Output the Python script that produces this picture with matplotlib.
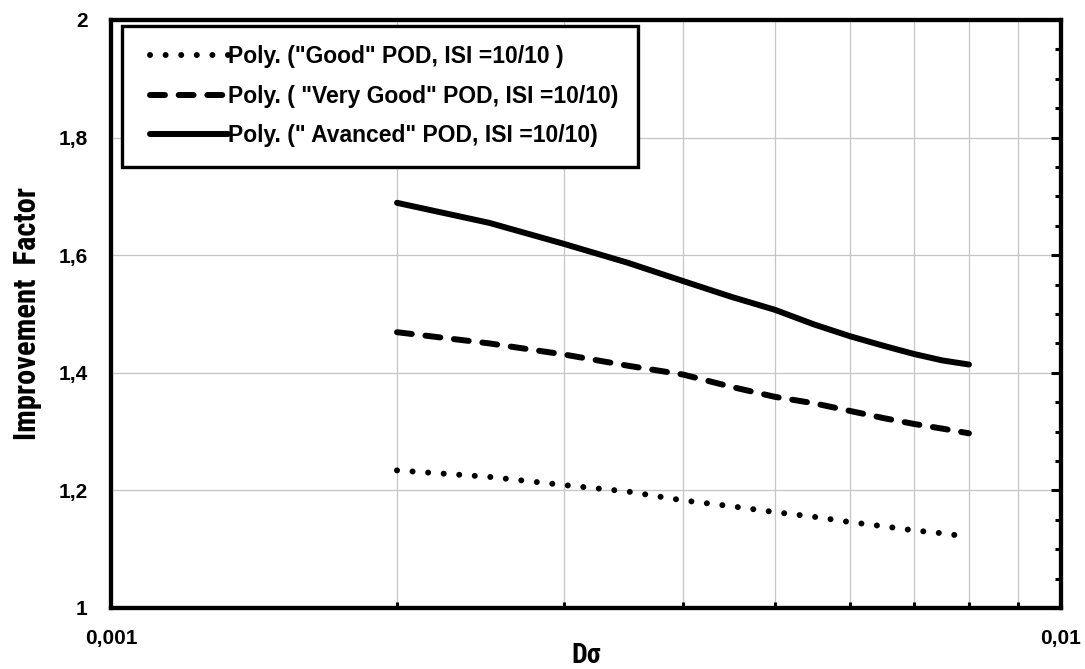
import matplotlib
matplotlib.use("Agg")
import matplotlib.pyplot as plt
from matplotlib import font_manager as fm
from matplotlib.ticker import FixedLocator, FixedFormatter, NullFormatter
from matplotlib.legend_handler import HandlerLine2D

# ---- data ----
d_sigma = [0.002, 0.0025, 0.003, 0.0035, 0.004, 0.0045, 0.005, 0.0055,
           0.006, 0.0065, 0.007, 0.0075, 0.008]
good = [1.234, 1.223, 1.209, 1.198, 1.183, 1.173, 1.163, 1.155,
        1.146, 1.139, 1.132, 1.127, 1.121]
very_good = [1.469, 1.450, 1.431, 1.412, 1.397, 1.376, 1.359, 1.348,
             1.335, 1.323, 1.313, 1.305, 1.297]
advanced = [1.689, 1.655, 1.619, 1.587, 1.556, 1.529, 1.507, 1.482,
            1.462, 1.446, 1.432, 1.421, 1.414]

labels = ['Poly. ("Good" POD, ISI =10/10 )',
          'Poly. ( "Very Good" POD, ISI =10/10)',
          'Poly. (" Avanced" POD, ISI =10/10)']

x_ticks = [0.001, 0.01]
x_ticklabels = ["0,001", "0,01"]
x_minor = [0.002, 0.003, 0.004, 0.005, 0.006, 0.007, 0.008, 0.009]
y_ticks = [1.0, 1.2, 1.4, 1.6, 1.8, 2.0]
y_ticklabels = ["1", "1,2", "1,4", "1,6", "1,8", "2"]
y_minor = [1.05, 1.1, 1.15, 1.25, 1.3, 1.35, 1.45, 1.5, 1.55, 1.65, 1.7,
           1.75, 1.85, 1.9, 1.95]

plt.rcParams['font.family'] = ['Liberation Sans', 'DejaVu Sans']

available = {f.name for f in fm.fontManager.ttflist}
narrow_name = None
for cand in ['Liberation Sans Narrow', 'Arial Narrow', 'DejaVu Sans Condensed',
             'Roboto Condensed', 'Open Sans Condensed']:
    if cand in available:
        narrow_name = cand
        break
if narrow_name:
    label_family = [narrow_name, 'Liberation Sans', 'DejaVu Sans']
    ylab_size, xlab_size = 22, 20
else:
    label_family = ['Liberation Sans', 'DejaVu Sans']
    ylab_size, xlab_size = 19, 17

fig = plt.figure(figsize=(10.85, 6.69), dpi=100)
ax = fig.add_axes([0.1023, 0.0912, 0.8756, 0.879])

ax.set_xscale('log')
ax.set_xlim(0.001, 0.01)
ax.set_ylim(1.0, 2.0)

LW = 4.3
l1, = ax.plot(d_sigma, good, color='black', lw=LW, linestyle=(0, (0.01, 2.6)),
              dash_capstyle='round', solid_capstyle='round', label=labels[0])
l2, = ax.plot(d_sigma, very_good, color='black', lw=LW, linestyle=(0, (2.5, 2.3)),
              dash_capstyle='round', solid_capstyle='round', label=labels[1])
l3, = ax.plot(d_sigma, advanced, color='black', lw=LW, linestyle='-',
              solid_capstyle='round', label=labels[2])

# ticks
ax.xaxis.set_major_locator(FixedLocator(x_ticks))
ax.xaxis.set_major_formatter(FixedFormatter(x_ticklabels))
ax.xaxis.set_minor_locator(FixedLocator(x_minor))
ax.xaxis.set_minor_formatter(NullFormatter())
ax.yaxis.set_major_locator(FixedLocator(y_ticks))
ax.yaxis.set_major_formatter(FixedFormatter(y_ticklabels))
ax.yaxis.set_minor_locator(FixedLocator(y_minor))

ax.tick_params(axis='x', which='both', direction='in', top=False, bottom=True,
               width=2.2, color='black', pad=15)
ax.tick_params(axis='x', which='major', length=0)
ax.tick_params(axis='x', which='minor', length=4)
ax.tick_params(axis='y', which='both', direction='in', left=False, right=True,
               labelleft=True, labelright=False, width=2.2, pad=17)
ax.tick_params(axis='y', which='major', length=7)
ax.tick_params(axis='y', which='minor', length=4.5)

for lab in ax.get_yticklabels():
    lab.set_fontsize(15)
    lab.set_fontweight('bold')
for lab in ax.get_xticklabels():
    lab.set_fontsize(15)
    lab.set_fontweight('bold')

# grid
ax.grid(True, which='major', axis='y', color='#c4c4c4', lw=0.9)
ax.grid(True, which='minor', axis='x', color='#c4c4c4', lw=0.9)
ax.set_axisbelow(True)

for s in ax.spines.values():
    s.set_linewidth(3.1)
    s.set_color('black')

ax.set_xlabel('Dσ', fontsize=xlab_size, fontweight='bold', family=label_family)
ax.xaxis.set_label_coords(0.5, -0.057)
ax.set_ylabel('Improvement  Factor', fontsize=ylab_size, fontweight='bold',
              family=label_family)
ax.yaxis.set_label_coords(-0.073, 0.5)

hmap = {l: HandlerLine2D(xpad=0.37) for l in (l1, l2, l3)}
leg = ax.legend(handles=[l1, l2, l3], loc='upper left',
                bbox_to_anchor=(0.0115, 0.99), frameon=True, fancybox=False,
                edgecolor='black', framealpha=1, handlelength=3.8,
                handletextpad=0.0, borderpad=0.85, labelspacing=0.72,
                borderaxespad=0.0, handler_map=hmap,
                prop={'weight': 'bold', 'size': 16.5})
leg.get_frame().set_linewidth(2.4)

fig.savefig('out.png', dpi=100)
